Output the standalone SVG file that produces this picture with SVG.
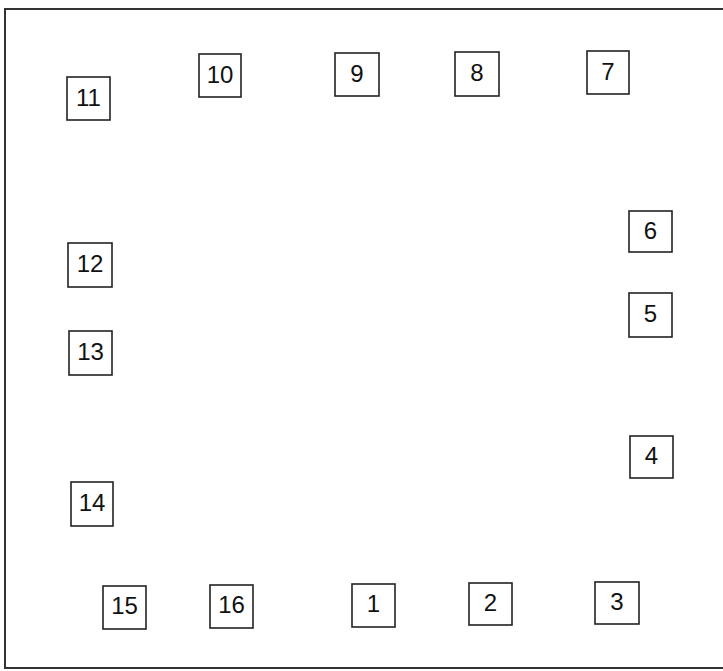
<svg xmlns="http://www.w3.org/2000/svg" width="723" height="671" viewBox="0 0 723 671">
<style>
.frame{fill:none;stroke:#333;stroke-width:2}
.box{fill:#fff;stroke:#222;stroke-width:1.6}
.lbl{font-family:"Liberation Sans",Arial,sans-serif;font-size:24px;fill:#111;text-anchor:middle;dominant-baseline:central}
</style>
<rect width="723" height="671" fill="#fff"/>
<path class="frame" d="M724 9 H5 V668 H724"/>
<g id="n11"><rect class="box" x="67" y="77" width="43" height="43"/><text class="lbl" x="88.5" y="97">11</text></g>
<g id="n10"><rect class="box" x="199" y="54" width="42" height="43"/><text class="lbl" x="220" y="74">10</text></g>
<g id="n9"><rect class="box" x="335" y="53" width="44" height="43"/><text class="lbl" x="357" y="73">9</text></g>
<g id="n8"><rect class="box" x="455" y="52" width="44" height="44"/><text class="lbl" x="477" y="72">8</text></g>
<g id="n7"><rect class="box" x="587" y="51" width="42" height="43"/><text class="lbl" x="608" y="71">7</text></g>
<g id="n6"><rect class="box" x="629" y="211" width="43" height="41"/><text class="lbl" x="650.5" y="230">6</text></g>
<g id="n5"><rect class="box" x="629" y="293" width="43" height="44"/><text class="lbl" x="650.5" y="313">5</text></g>
<g id="n4"><rect class="box" x="630" y="436" width="43" height="42"/><text class="lbl" x="651.5" y="455">4</text></g>
<g id="n12"><rect class="box" x="68" y="243" width="44" height="44"/><text class="lbl" x="90" y="263">12</text></g>
<g id="n13"><rect class="box" x="69" y="331" width="43" height="44"/><text class="lbl" x="90.5" y="351">13</text></g>
<g id="n14"><rect class="box" x="71" y="482" width="42" height="44"/><text class="lbl" x="92" y="502">14</text></g>
<g id="n15"><rect class="box" x="103" y="586" width="43" height="43"/><text class="lbl" x="124.5" y="605">15</text></g>
<g id="n16"><rect class="box" x="210" y="585" width="43" height="43"/><text class="lbl" x="231.5" y="604">16</text></g>
<g id="n1"><rect class="box" x="352" y="584" width="43" height="43"/><text class="lbl" x="373.5" y="603">1</text></g>
<g id="n2"><rect class="box" x="469" y="583" width="43" height="42"/><text class="lbl" x="490.5" y="602">2</text></g>
<g id="n3"><rect class="box" x="595" y="582" width="44" height="42"/><text class="lbl" x="617" y="601">3</text></g>
<g id="connectors"></g>
</svg>
